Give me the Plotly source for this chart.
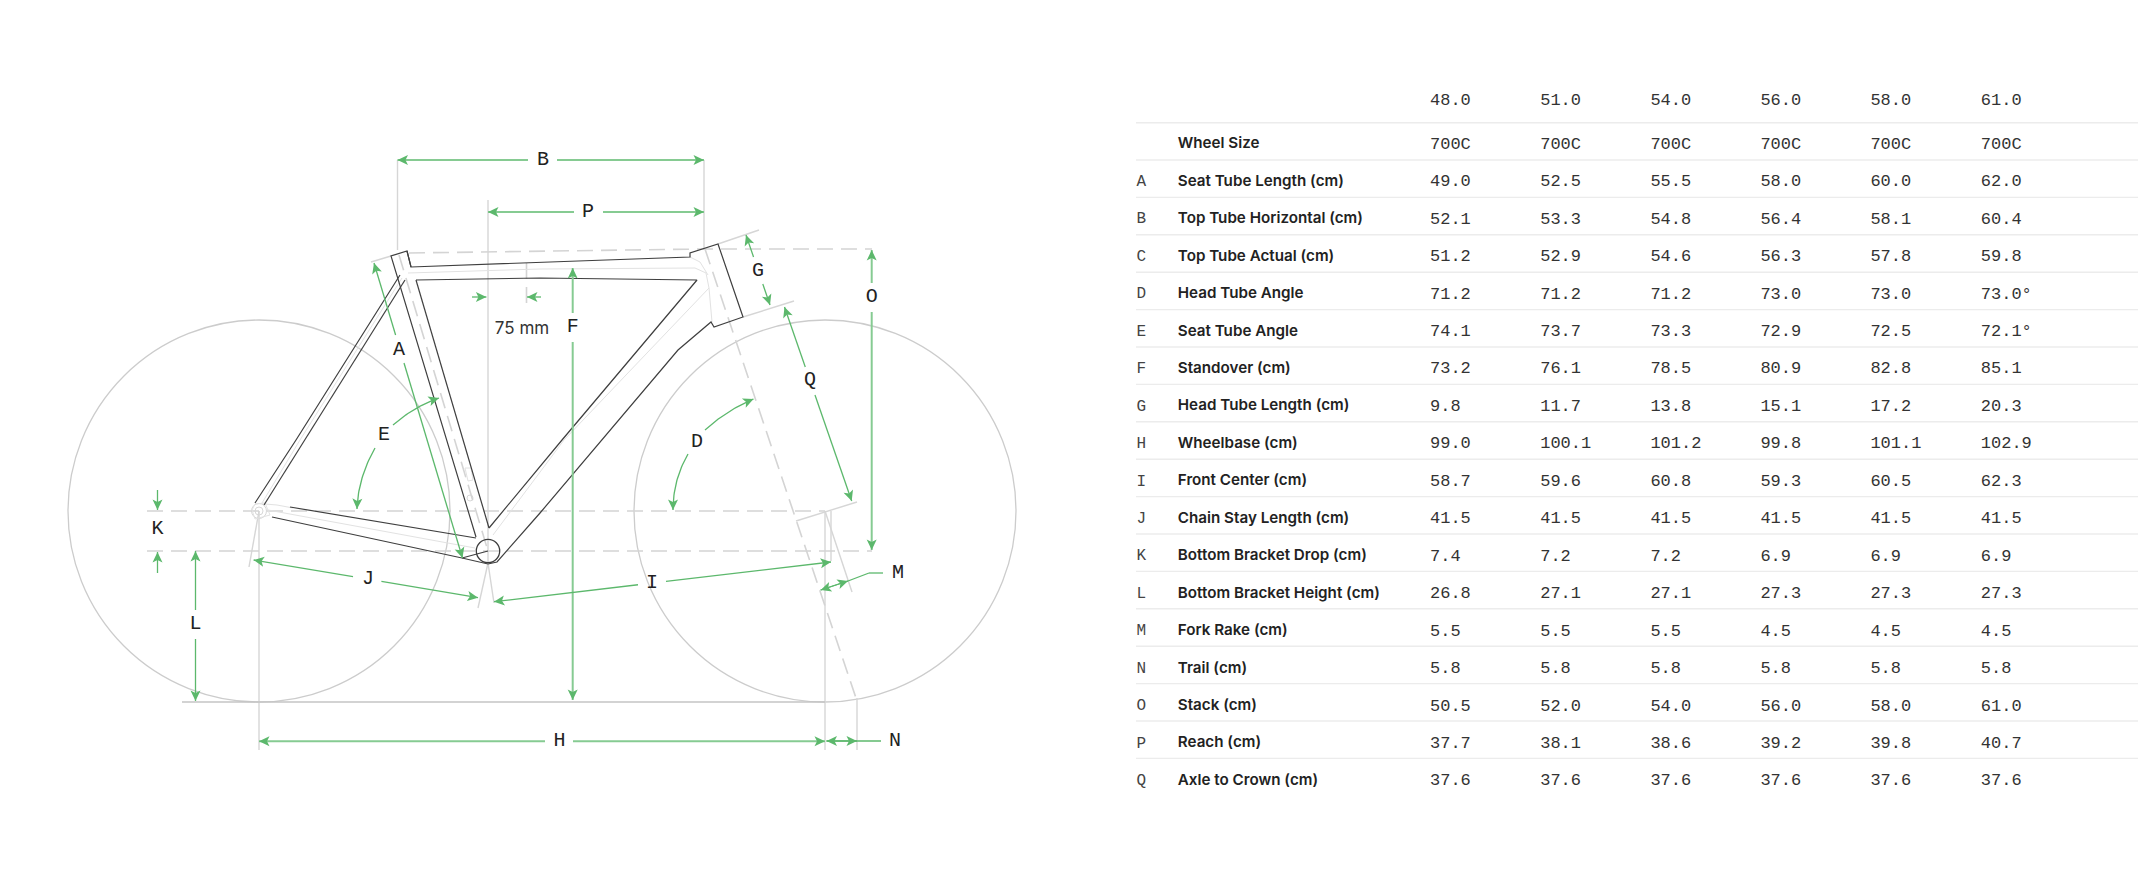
import math
import plotly.graph_objects as go

# table data
sizes = ["48.0", "51.0", "54.0", "56.0", "58.0", "61.0"]
letters = ["", "A", "B", "C", "D", "E", "F", "G", "H", "I", "J", "K", "L", "M", "N", "O", "P", "Q"]
names = ["Wheel Size", "Seat Tube Length (cm)", "Top Tube Horizontal (cm)", "Top Tube Actual (cm)",
         "Head Tube Angle", "Seat Tube Angle", "Standover (cm)", "Head Tube Length (cm)",
         "Wheelbase (cm)", "Front Center (cm)", "Chain Stay Length (cm)", "Bottom Bracket Drop (cm)",
         "Bottom Bracket Height (cm)", "Fork Rake (cm)", "Trail (cm)", "Stack (cm)", "Reach (cm)",
         "Axle to Crown (cm)"]
size_48 = ["700C", "49.0", "52.1", "51.2", "71.2", "74.1", "73.2", "9.8", "99.0", "58.7", "41.5", "7.4", "26.8", "5.5", "5.8", "50.5", "37.7", "37.6"]
size_51 = ["700C", "52.5", "53.3", "52.9", "71.2", "73.7", "76.1", "11.7", "100.1", "59.6", "41.5", "7.2", "27.1", "5.5", "5.8", "52.0", "38.1", "37.6"]
size_54 = ["700C", "55.5", "54.8", "54.6", "71.2", "73.3", "78.5", "13.8", "101.2", "60.8", "41.5", "7.2", "27.1", "5.5", "5.8", "54.0", "38.6", "37.6"]
size_56 = ["700C", "58.0", "56.4", "56.3", "73.0", "72.9", "80.9", "15.1", "99.8", "59.3", "41.5", "6.9", "27.3", "4.5", "5.8", "56.0", "39.2", "37.6"]
size_58 = ["700C", "60.0", "58.1", "57.8", "73.0", "72.5", "82.8", "17.2", "101.1", "60.5", "41.5", "6.9", "27.3", "4.5", "5.8", "58.0", "39.8", "37.6"]
size_61 = ["700C", "62.0", "60.4", "59.8", "73.0°", "72.1°", "85.1", "20.3", "102.9", "62.3", "41.5", "6.9", "27.3", "4.5", "5.8", "61.0", "40.7", "37.6"]
columns = [size_48, size_51, size_54, size_56, size_58, size_61]

GREEN = "#5cb86c"
GREEN_SOFT = "#86cb92"
MONO = "Liberation Mono"
SANS = "Inter"

# frame drawing, in page pixels
frame_dark = [
    [(411, 267), (407, 251), (391, 256), (476, 537)],
    [(407, 251), (411, 267), (690, 257), (690, 253), (718, 244), (743, 317), (714, 327), (711, 322), (678, 350), (609, 432), (540, 513), (497, 562), (488, 564), (462, 558), (272, 517)],
    [(416, 280), (540, 278), (697, 280), (562, 440), (489, 528)],
    [(416, 280), (463, 440), (489, 528)],
    [(400, 275), (296, 440), (255, 503)],
    [(405, 280), (305, 440), (264, 505)],
    [(290, 507), (476, 538)],
    [(462, 558), (488, 551)],
]
frame_light = [
    [(408, 273), (540, 269), (695, 268), (706, 273), (709, 288), (564, 440), (493, 535)],
    [(268, 510), (475, 548)],
    [(402, 278), (300, 440), (262, 503)],
    [(690, 257), (700, 262), (708, 275)],
    [(709, 288), (712, 322)],
    [(252, 510), (255, 504), (265, 503), (270, 515), (255, 519), (252, 510)],
    [(265, 504), (277, 505), (293, 508)],
    [(465, 468), (471, 468), (473, 480), (468, 481), (465, 468)],
]
guide_solid = [
    [(397.5, 160), (397.5, 250)],
    [(704, 160), (704, 250)],
    [(488, 200), (488, 563)],
    [(259, 511), (259, 750)],
    [(825, 511), (825, 750)],
    [(857, 698), (857, 750)],
    [(825, 511), (852, 592)],
    [(831, 511), (831, 561)],
    [(796, 521), (857, 502)],
    [(371, 262), (391, 256)],
    [(718, 244), (759, 230)],
    [(743, 317), (794, 301)],
    [(259, 511), (249, 567)],
    [(488, 563), (478, 608)],
    [(488, 563), (494, 603)],
]
guide_dash = [
    [(147, 511), (825, 511)],
    [(147, 551), (872, 551)],
    [(409, 253), (702, 249), (872, 249)],
    [(399, 255), (488, 551)],
    [(705, 249), (856, 698)],
    [(526.5, 263), (526.5, 304)],
]
ground = [(182, 702), (825, 702)]
wheels = [(259, 511, 191), (825, 511, 191)]
small_circles = [(259, 511, 7.5), (259, 511, 4), (470, 498, 3)]
bb = (488, 551, 11.7)

# dimension arrows: start, end, arrow at start, arrow at end, gap for the label (along longer axis)
dims_soft = [
    ((397.5, 160), (704, 160), True, True, (528, 557)),
    ((488, 212), (704, 212), True, True, (574, 603)),
    ((572.7, 268), (572.7, 700), True, True, (313, 342)),
    ((871.7, 250), (871.7, 550), True, True, (283, 312)),
    ((259, 741.3), (825, 741.3), True, True, (545, 573)),
]
dims = [
    ((374, 263), (462.5, 558), True, True, (335, 363)),
    ((784.5, 307), (851.7, 501), True, True, (367, 395)),
    ((746, 235), (770, 305), True, True, (257, 284)),
    ((195.5, 551), (195.5, 701), True, True, (610, 639)),
    ((253.6, 560), (478, 597.7), True, True, (353, 381.4)),
    ((494, 601.7), (831, 562), True, True, (638, 666)),
    ((157.5, 490), (157.5, 510), False, True, None),
    ((157.5, 573), (157.5, 552), False, True, None),
    ((472, 297), (486.4, 297), False, True, None),
    ((541, 297), (527, 297), False, True, None),
    ((881, 741), (826.5, 741), False, True, None),
    ((826.5, 741), (857, 741), False, True, None),
    ((848, 581), (820.7, 590), False, True, None),
    ((820.7, 590), (848, 581), False, True, None),
    ((848, 581), (869, 573), False, False, None),
    ((869, 573), (883, 573), False, False, None),
]
arcs = [
    ((393, 425), (415, 406), (439, 398)),
    ((705, 430), (727, 410), (753.5, 399)),
    ((375, 448), (358, 478), (357, 509)),
    ((688, 454), (673, 480), (673, 510)),
]
dim_labels = [("B", 543, 160), ("P", 588, 212), ("A", 399, 350), ("F", 572.7, 327), ("O", 871.7, 297),
              ("Q", 810, 380), ("G", 758, 271), ("K", 157.5, 529), ("L", 195.5, 624), ("J", 368, 579),
              ("I", 652, 582.7), ("H", 559.6, 741), ("N", 895, 741), ("M", 898, 573), ("E", 384, 435),
              ("D", 697, 442)]


def flat(paths):
    xs, ys = [], []
    for p in paths:
        xs += [a[0] for a in p] + [None]
        ys += [a[1] for a in p] + [None]
    return xs, ys


def head(tip, from_pt, length=10.5, half=5, notch=2.5):
    # notched arrow head, tip first
    dx, dy = tip[0] - from_pt[0], tip[1] - from_pt[1]
    d = math.hypot(dx, dy)
    ux, uy = dx / d, dy / d
    bx, by = tip[0] - ux * length, tip[1] - uy * length
    nx, ny = tip[0] - ux * (length - notch), tip[1] - uy * (length - notch)
    return [tip, (bx - uy * half, by + ux * half), (nx, ny), (bx + uy * half, by - ux * half), tip]


def bezier(p0, c, p1, n=24):
    pts = []
    for i in range(n + 1):
        t = i / n
        pts.append(((1 - t) ** 2 * p0[0] + 2 * t * (1 - t) * c[0] + t * t * p1[0],
                    (1 - t) ** 2 * p0[1] + 2 * t * (1 - t) * c[1] + t * t * p1[1]))
    return pts


def dim_paths(dim_list):
    paths, tips = [], []
    for p0, p1, a0, a1, gap in dim_list:
        if gap:
            i = 0 if abs(p1[0] - p0[0]) > abs(p1[1] - p0[1]) else 1
            t0 = (gap[0] - p0[i]) / (p1[i] - p0[i])
            t1 = (gap[1] - p0[i]) / (p1[i] - p0[i])
            g0 = (p0[0] + (p1[0] - p0[0]) * t0, p0[1] + (p1[1] - p0[1]) * t0)
            g1 = (p0[0] + (p1[0] - p0[0]) * t1, p0[1] + (p1[1] - p0[1]) * t1)
            paths += [[p0, g0], [g1, p1]]
        else:
            paths.append([p0, p1])
        if a0:
            tips.append(head(p0, p1))
        if a1:
            tips.append(head(p1, p0))
    return paths, tips


fig = go.Figure()


def add_lines(paths, color, width, dash="solid"):
    xs, ys = flat(paths)
    fig.add_trace(go.Scatter(x=xs, y=ys, mode="lines", line=dict(color=color, width=width, dash=dash),
                             hoverinfo="skip", showlegend=False))


# wheels
for cx, cy, r in wheels:
    fig.add_shape(type="circle", x0=cx - r, x1=cx + r, y0=cy - r, y1=cy + r,
                  line=dict(color="#cccccc", width=1.3), layer="below")
for cx, cy, r in small_circles:
    fig.add_shape(type="circle", x0=cx - r, x1=cx + r, y0=cy - r, y1=cy + r,
                  line=dict(color="#d8d8d8", width=1), layer="below")

add_lines(guide_solid, "#d6d6d6", 1.4)
add_lines(guide_dash, "#d4d4d4", 1.6, "16px,8px")
add_lines([ground], "#c4c4c4", 1.4)
add_lines(frame_light, "#e2e2e2", 1)
add_lines(frame_dark, "#3f3f3f", 1.2)

fig.add_shape(type="circle", x0=bb[0] - bb[2], x1=bb[0] + bb[2], y0=bb[1] - bb[2], y1=bb[1] + bb[2],
              line=dict(color="#3c3c3c", width=1.3))

# green dimension lines and heads
soft_paths, soft_heads = dim_paths(dims_soft)
green_paths, heads = dim_paths(dims)
for p0, c, p1 in arcs:
    green_paths.append(bezier(p0, c, p1))
    heads.append(head(p1, c))
add_lines(soft_paths, GREEN_SOFT, 2)
add_lines(green_paths, GREEN, 1.3)
hx, hy = flat(soft_heads + heads)
fig.add_trace(go.Scatter(x=hx, y=hy, mode="lines", fill="toself", fillcolor=GREEN, line=dict(width=0),
                         hoverinfo="skip", showlegend=False))

# letters on the drawing
fig.add_trace(go.Scatter(x=[a[1] for a in dim_labels], y=[a[2] for a in dim_labels],
                         text=[a[0] for a in dim_labels], mode="text",
                         textfont=dict(family=MONO, size=20, color="#222222"),
                         textposition="middle center", hoverinfo="skip", showlegend=False))
fig.add_trace(go.Scatter(x=[522], y=[330], text=["75 mm"], mode="text",
                         textfont=dict(family=SANS, size=17, color="#333333"),
                         textposition="middle center", hoverinfo="skip", showlegend=False))

# table
row_h = 37.45
row_y = [144.5 + i * row_h for i in range(len(names))]
col_x = [1430, 1540.2, 1650.4, 1760.4, 1870.4, 1980.8]
rules = [122.7] + [143.8 + i * 37.4 + 16.2 for i in range(len(names) - 1)]
add_lines([[(1136, y), (2138, y)] for y in rules], "#ececec", 1.4)

fig.add_trace(go.Scatter(x=[1136.5] * len(letters), y=row_y, text=letters, mode="text",
                         textfont=dict(family=MONO, size=16, color="#444444"),
                         textposition="middle right", hoverinfo="skip", showlegend=False))
fig.add_trace(go.Scatter(x=[1177.8] * len(names), y=row_y, text=names, mode="text",
                         textfont=dict(family=SANS, size=15.2, color="#222222", weight=600),
                         textposition="middle right", hoverinfo="skip", showlegend=False))
for i, col in enumerate(columns):
    fig.add_trace(go.Scatter(x=[col_x[i]] * (len(col) + 1), y=[101.2] + row_y, text=[sizes[i]] + col, mode="text",
                             textfont=dict(family=MONO, size=17, color="#333333"),
                             textposition="middle right", hoverinfo="skip", showlegend=False))

fig.update_layout(
    width=2138, height=884,
    margin=dict(l=0, r=0, t=0, b=0),
    paper_bgcolor="white", plot_bgcolor="white",
    xaxis=dict(range=[0, 2138], visible=False, fixedrange=True),
    yaxis=dict(range=[884, 0], visible=False, fixedrange=True),
)
fig.write_html("out.html", post_script="document.body.style.margin='0';", config=dict(displayModeBar=False))
